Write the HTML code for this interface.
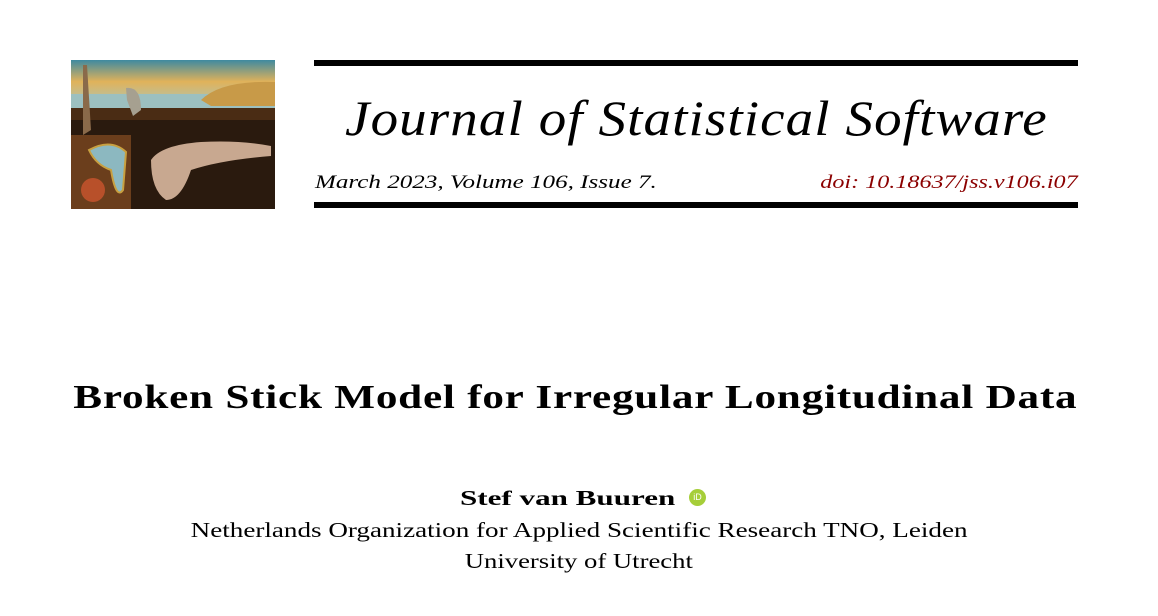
<!DOCTYPE html>
<html><head><meta charset="utf-8"><style>
html,body{margin:0;padding:0;background:#fff;}
body{width:1158px;height:616px;position:relative;overflow:hidden;font-family:"Liberation Serif",serif;color:#000;}
.abs{position:absolute;}
.rule{position:absolute;left:314px;width:764px;height:6px;background:#000;}
.c{left:0;width:1158px;text-align:center;}
.s{display:inline-block;white-space:nowrap;}
</style></head><body>
<svg class="abs" style="left:71px;top:60px" width="204" height="149" viewBox="0 0 204 149">
<defs><linearGradient id="sky" x1="0" y1="0" x2="0" y2="1"><stop offset="0" stop-color="#3f8aa0"/><stop offset="0.45" stop-color="#e0b25a"/><stop offset="1" stop-color="#a8c8c0"/></linearGradient></defs>
<rect width="204" height="149" fill="#2a1a0e"/>
<rect width="204" height="48" fill="url(#sky)"/>
<rect y="34" width="204" height="14" fill="#9cc0c0"/>
<path d="M130 40 Q150 20 204 22 L204 46 L140 46 Z" fill="#c89a48"/>
<rect y="48" width="204" height="12" fill="#4a2c14"/>
<path d="M0 75 L60 75 L60 149 L0 149 Z" fill="#6b3e1c"/>
<path d="M12 5 L16 5 L20 70 L12 75 Z" fill="#8a6a4a"/>
<path d="M55 28 Q70 26 70 50 L62 56 L56 40 Z" fill="#a6a090"/>
<path d="M18 90 Q40 78 55 92 L52 130 Q45 140 40 110 Q25 105 18 90Z" fill="#8cb8c0" stroke="#c8a040" stroke-width="2"/>
<circle cx="22" cy="130" r="12" fill="#b8502a"/>
<path d="M80 100 Q90 85 130 82 Q170 80 200 86 L200 96 Q150 100 120 110 Q110 140 95 140 Q80 130 80 100Z" fill="#c8a890"/>
</svg>
<div class="rule" style="top:60px"></div>
<div class="abs" style="left:314px;width:764px;top:88px;text-align:center;font-style:italic;font-size:50px;line-height:60px;letter-spacing:1px"><span class="s" style="transform:scaleX(1.1)">Journal of Statistical Software</span></div>
<div class="abs" style="left:315px;top:172px;font-style:italic;font-size:19px;line-height:22px"><span class="s" style="transform:scaleX(1.32);transform-origin:left">March 2023, Volume 106, Issue 7.</span></div>
<div class="abs" style="right:80px;top:172px;font-style:italic;font-size:19px;line-height:22px;color:#8b0000"><span class="s" style="transform:scaleX(1.27);transform-origin:right">doi: 10.18637/jss.v106.i07</span></div>
<div class="rule" style="top:202px"></div>
<div class="abs c" style="left:0;width:1150px;top:376px;font-weight:bold;font-size:34px;line-height:44px;letter-spacing:0.6px"><span class="s" style="transform:scaleX(1.27)">Broken Stick Model for Irregular Longitudinal Data</span></div>
<div class="abs" style="left:460px;top:484px;font-weight:bold;font-size:21px;line-height:28px"><span class="s" style="transform:scaleX(1.48);transform-origin:left">Stef van Buuren</span></div>
<span class="abs" style="left:689px;top:489px;width:17px;height:17px;border-radius:50%;background:#a6ce39;color:#fff;font-size:9px;line-height:17px;text-align:center;font-family:'Liberation Sans',sans-serif">iD</span>
<div class="abs c" style="top:516px;font-size:21px;line-height:28px"><span class="s" style="transform:scaleX(1.29)">Netherlands Organization for Applied Scientific Research TNO, Leiden</span></div>
<div class="abs c" style="top:547px;font-size:21px;line-height:28px"><span class="s" style="transform:scaleX(1.27)">University of Utrecht</span></div>
</body></html>
